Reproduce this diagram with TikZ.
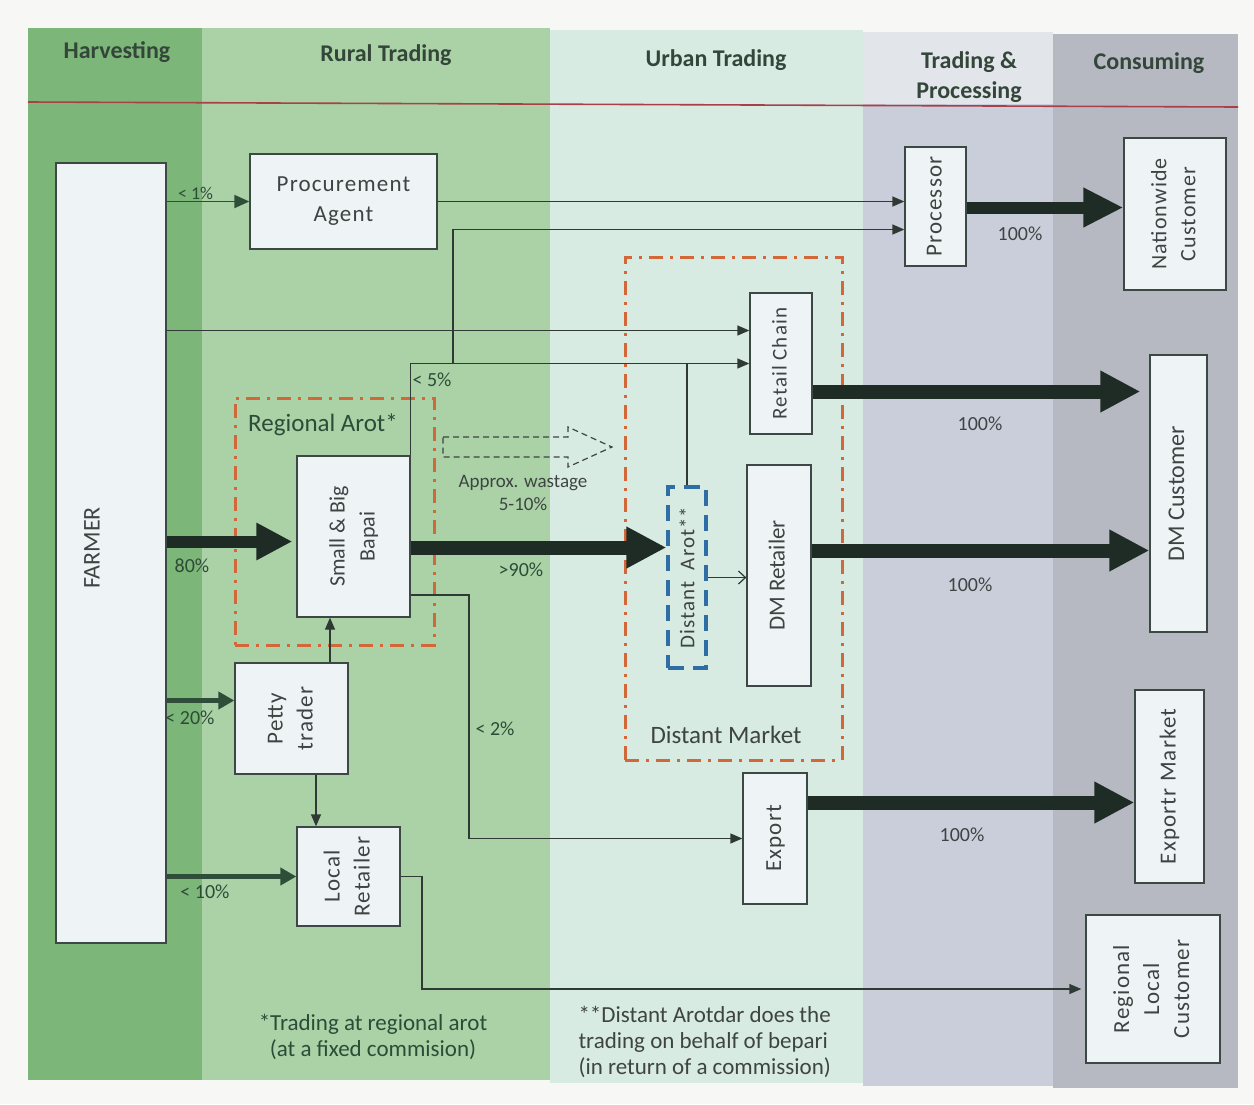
\documentclass[tikz,border=0pt]{standalone}
\usepackage{fontspec}
\setmainfont{Carlito}
\newfontfamily\boxfont[LetterSpace=5]{Carlito}
\newfontfamily\headfont{Carlito}
\usetikzlibrary{arrows.meta}

\definecolor{pagebg}{HTML}{F7F7F5}
\definecolor{harvest}{HTML}{7DB679}
\definecolor{rural}{HTML}{AAD2A6}
\definecolor{urban}{HTML}{D8EBE2}
\definecolor{tradeproc}{HTML}{CACDDA}
\definecolor{tradehead}{HTML}{E2E6EB}
\definecolor{consume}{HTML}{B6B9C1}
\definecolor{boxfill}{HTML}{EEF3F6}
\definecolor{boxline}{HTML}{3B4843}
\definecolor{flowdark}{HTML}{1F2C26}
\definecolor{flowgreen}{HTML}{2F4E39}
\definecolor{thinline}{HTML}{2F3A35}
\definecolor{arotred}{HTML}{D2673A}
\definecolor{arotblue}{HTML}{2F6EA5}
\definecolor{headtext}{HTML}{34463A}
\definecolor{labgreen}{HTML}{2D4C37}
\definecolor{labgray}{HTML}{3E4442}
\definecolor{ruleline}{HTML}{A8404A}

% vertical (rotated) multi-line box caption
\newcommand{\vlab}[1]{\rotatebox{90}{\begin{tabular}{@{}c@{}}#1\end{tabular}}}

\tikzset{
  box/.style={draw=boxline, fill=boxfill, line width=1.3pt, inner sep=0pt,
    text=labgray, font=\boxfont\fontsize{23}{30}\selectfont},
  colhead/.style={font=\headfont\bfseries\fontsize{24}{30}\selectfont,
    text=headtext, align=center},
  conn/.style={draw=thinline, line width=1.3pt, -{Triangle[length=12pt,width=10pt]}},
  bigflow/.style={draw=flowdark, line width=14pt, -{Triangle[length=40pt,width=39pt]}},
  midflow/.style={draw=flowgreen, line width=4.5pt, -{Triangle[length=16pt,width=17pt]}},
  pct/.style={font=\fontsize{20}{23}\selectfont, text=labgray},
  pctg/.style={pct, text=labgreen},
  reddash/.style={draw=arotred, line width=3pt,
    dash pattern=on 14pt off 7pt on 3pt off 7pt, inner sep=0pt},
  note/.style={font=\fontsize{23}{26}\selectfont},
}

\begin{document}
\begin{tikzpicture}[x=1pt,y=-1pt]
\useasboundingbox (0,0) rectangle (1254,1104);
\fill[pagebg] (0,0) rectangle (1254,1104);

% stage columns
\fill[harvest]   (28,28)   rectangle (202,1080);
\fill[rural]     (202,28)  rectangle (550,1080);
\fill[urban]     (550,30)  rectangle (863,1083);
\fill[tradeproc] (863,32)  rectangle (1053,1086);
\fill[tradehead] (863,32)  rectangle (1053,104);
\fill[consume]   (1053,34) rectangle (1238,1088);
\draw[ruleline, line width=1.6pt] (28,102) -- (1238,107);

% column headings
\node[colhead] (hHarv) at (117,52) {Harvesting};
\node[colhead] (hRural) at (386,55) {Rural Trading};
\node[colhead] (hUrban) at (716,60) {Urban Trading};
\node[colhead] (hTrade) at (969,77) {Trading \&\\Processing};
\node[colhead] (hCons) at (1149,63) {Consuming};

% grouping frames
\node[reddash, minimum width=199pt, minimum height=247pt] (regarot) at (334.5,521.5) {};
\node[font=\fontsize{25}{28}\selectfont, text=labgreen] (regarotlab) at (323,425) {Regional Arot*};
\node[reddash, minimum width=217pt, minimum height=503pt] (distmkt) at (733.5,508.5) {};
\node[font=\fontsize{25}{28}\selectfont, text=labgray] (distmktlab) at (726,735) {Distant Market};

% actors
\node[box, minimum width=110pt, minimum height=780pt] (farmer) at (111,553) {};
\node[font=\fontsize{24}{28}\selectfont, text=labgray, rotate=90] (farmerlab) at (92,548) {FARMER};
\node[box, minimum width=187pt, minimum height=95pt, align=center] (proc) at (343.5,201.5) {Procurement\\Agent};
\node[box, minimum width=61pt, minimum height=119pt] (processor) at (935.5,206.5) {\vlab{Processor}};
\node[box, minimum width=102pt, minimum height=152pt, font=\boxfont\fontsize{22}{29}\selectfont] (nation) at (1175,214) {\vlab{Nationwide\\Customer}};
\node[box, minimum width=62pt, minimum height=141pt, font=\boxfont\fontsize{21}{28}\selectfont] (rchain) at (781,363.5) {\vlab{Retail Chain}};
\node[box, minimum width=57pt, minimum height=277pt, font=\fontsize{24}{28}\selectfont] (dmcust) at (1178.5,493.5) {\vlab{DM Customer}};
\node[box, minimum width=113pt, minimum height=161pt, font=\fontsize{22}{30}\selectfont] (bapai) at (353.5,536.5) {\vlab{Small \& Big\\Bapai}};
\node[draw=arotblue, line width=3.2pt, dash pattern=on 16pt off 9pt, inner sep=0pt,
      minimum width=38pt, minimum height=181pt, text=labgray,
      font=\boxfont\fontsize{21}{26}\selectfont] (darot) at (687,577.5) {\rotatebox{90}{Distant\hspace{0.55em}Arot**}};
\node[box, minimum width=64pt, minimum height=221pt, font=\fontsize{23}{28}\selectfont] (dmret) at (779,575.5) {\vlab{DM Retailer}};
\node[box, minimum width=113pt, minimum height=111pt] (petty) at (291.5,718.5) {\vlab{Petty\\trader}};
\node[box, minimum width=103pt, minimum height=99pt] (lret) at (348.5,876.5) {\vlab{Local\\Retailer}};
\node[box, minimum width=64pt, minimum height=131pt] (export) at (775,838.5) {\vlab{Export}};
\node[box, minimum width=69pt, minimum height=193pt] (expmkt) at (1169.5,786.5) {\vlab{Exportr Market}};
\node[box, minimum width=134pt, minimum height=148pt] (rlc) at (1153,989) {\vlab{Regional\\Local\\Customer}};

% junction points
\coordinate (rcin) at ([yshift=33pt]rchain.west);
\coordinate (j5) at (453,363.5);
\coordinate (pin2) at ([yshift=-23pt]processor.west);
\coordinate (fbin) at ([yshift=-5pt]bapai.west);
\coordinate (bin) at ([yshift=-11pt]bapai.east);
\coordinate (rcout) at ([yshift=-28pt]rchain.east);
\coordinate (dmout) at ([yshift=25pt]dmret.east);
\coordinate (prout) at ([yshift=-1pt]processor.east);
\coordinate (exout) at ([yshift=36pt]export.east);
\coordinate (pb) at ([xshift=-23.5pt]bapai.south);
\coordinate (pl) at ([xshift=24.5pt]petty.south);
\coordinate (pin) at ([yshift=18pt]petty.west);
\coordinate (bx) at ([yshift=-58.5pt]bapai.east);
\coordinate (k2) at (469,595);
\coordinate (k3) at (422,876.5);

% wastage (hollow dashed arrow)
\draw[draw=labgray, line width=1.2pt, dash pattern=on 6pt off 4pt]
  (443,437) -- (568,437) -- (568,427) -- (612,447) -- (568,467) -- (568,457) -- (443,457) -- cycle;
\node[pct, align=center, font=\fontsize{19}{23}\selectfont] (wastelab) at (523,493) {Approx. wastage\\5-10\%};

% thin flows
\draw[draw=flowgreen, line width=1.8pt, -{Triangle[length=15pt,width=13pt]}] (farmer.east |- proc.west) -- (proc.west)
  node[pctg, pos=0.35, above=-2pt, font=\fontsize{18}{20}\selectfont] (l1) {< 1\%};
\draw[conn] (proc.east) -- (proc.east -| processor.west);
\draw[conn] (bapai.north east) |- (rchain.west);
\draw[conn] (j5) |- (pin2);
\draw[conn] (farmer.east |- rcin) -- (rcin);
\draw[draw=thinline, line width=1.3pt] (darot.north) -- (darot.north |- rchain.west);
\draw[draw=thinline, line width=1.2pt, -{Straight Barb[length=7pt,width=13pt]}] (darot.east) -- (darot.east -| dmret.west);
\draw[conn] (pb |- petty.north) -- (pb);
\draw[conn] (pl) -- (pl |- lret.north);
\draw[conn] (bx) -- (k2) |- (export.west);
\draw[conn] (lret.east) -- (k3) |- ([xshift=-4pt]rlc.west);

% main flows
\draw[bigflow, line width=12pt, -{Triangle[length=36pt,width=35pt]}, shorten >=4pt] (farmer.east |- fbin) -- (fbin);
\draw[bigflow] (bin) -- (bin -| darot.west);
\draw[bigflow, shorten >=9pt] (rcout) -- (rcout -| dmcust.west);
\draw[bigflow] (dmout) -- (dmout -| dmcust.west);
\draw[bigflow, line width=12pt, -{Triangle[length=40pt,width=37pt]}] (prout) -- (prout -| nation.west);
\draw[bigflow] (exout) -- (exout -| expmkt.west);
\draw[midflow] (farmer.east |- pin) -- (pin);
\draw[midflow] (farmer.east |- lret.west) -- (lret.west);

% shares
\node[pctg] (l80) at (192,566) {80\%};
\node[pctg] (l20) at (190,718) {< 20\%};
\node[pctg] (l10) at (205,892) {< 10\%};
\node[pctg] (l5) at (432,380) {< 5\%};
\node[pctg] (l2) at (495,729) {< 2\%};
\node[pctg] (l90) at (521,570) {>90\%};
\node[pct] (lnat) at (1020,234) {100\%};
\node[pct] (lrc) at (980,424) {100\%};
\node[pct] (ldm) at (970,585) {100\%};
\node[pct] (lex) at (962,835) {100\%};

% footnotes
\node[note, align=center, text=labgreen] (fn1) at (373,1037) {*Trading at regional arot\\(at a fixed commision)};
\node[note, align=left, anchor=west, text=labgray] (fn2) at (575,1042) {**Distant Arotdar does the\\trading on behalf of bepari\\(in return of a commission)};
\end{tikzpicture}
\end{document}
